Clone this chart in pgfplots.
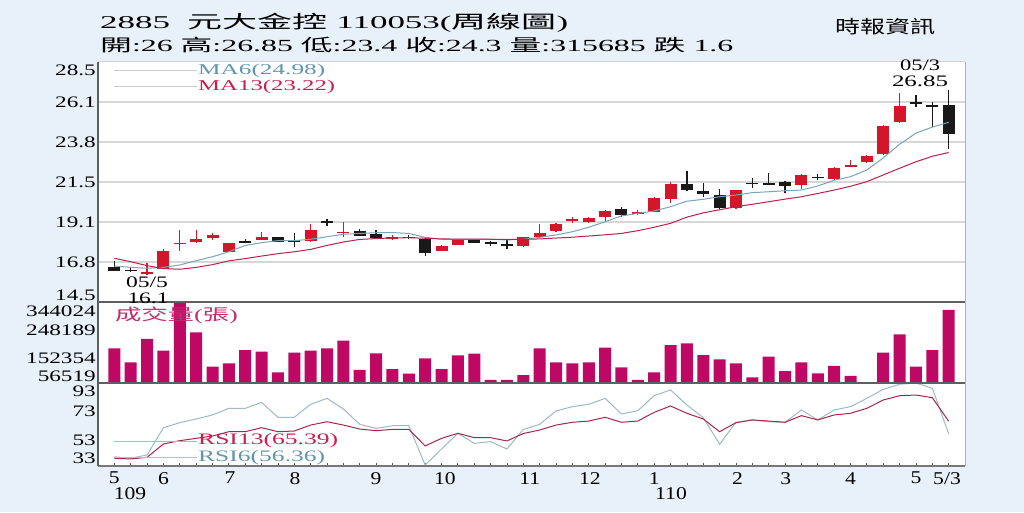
\documentclass[border=0pt]{standalone}
\usepackage{pgfplots}
\pgfplotsset{compat=1.18}
\usepackage{pgfplotstable}
\usepackage{graphicx}
\usepackage{fontspec}
\setmainfont{Liberation Serif}
\newfontfamily\cjk{Noto Sans CJK TC}
\newfontfamily\tickf{Liberation Serif}[FakeStretch=1.45]
\newfontfamily\monf{Liberation Serif}[FakeStretch=1.2]
\newcommand{\fitw}[2]{\resizebox{#1}{\height}{#2}}
\newcommand{\C}[1]{{\cjk #1}}

\definecolor{bgblue}{RGB}{232,241,250}
\definecolor{upred}{RGB}{212,22,42}
\definecolor{dnblack}{RGB}{25,25,25}
\definecolor{volc}{RGB}{190,8,100}
\definecolor{ma6c}{RGB}{120,165,185}
\definecolor{ma13c}{RGB}{185,35,75}
\definecolor{ma6t}{RGB}{95,150,175}
\definecolor{ma13t}{RGB}{200,30,80}
\definecolor{rsi6c}{RGB}{160,185,198}
\definecolor{rsi13c}{RGB}{165,40,75}
\definecolor{gridc}{RGB}{215,215,215}
\definecolor{framec}{RGB}{95,95,95}

\pgfplotstableread{
i o h l c
2 16.17 16.8 16.1 16.25
3 16.45 17.6 16.4 17.5
4 17.9 18.7 17.45 17.95
5 17.98 18.7 17.96 18.16
6 18.22 18.54 18.1 18.41
7 17.43 17.95 17.4 17.92
9 18.12 18.57 18.1 18.31
12 18.06 19.03 17.98 18.7
14 18.52 19.15 18.3 18.6
17 18.22 18.4 18.1 18.27
20 17.49 17.8 17.45 17.78
21 17.84 18.2 17.8 18.19
25 17.77 18.3 17.73 18.27
26 18.31 19.05 18.3 18.5
27 18.64 19.1 18.6 19.05
28 19.27 19.48 19.13 19.3
29 19.17 19.45 19.13 19.4
30 19.44 19.85 19.2 19.81
32 19.61 19.87 19.58 19.75
33 19.77 20.65 19.75 20.58
34 20.49 21.48 20.29 21.37
38 19.97 21.05 19.95 21.03
42 21.33 21.95 21.07 21.91
44 21.66 22.35 21.62 22.3
45 22.4 22.78 22.38 22.45
46 22.65 23.05 22.62 23.03
47 23.13 24.8 23.1 24.78
48 24.98 26.71 24.95 25.95
}\upT

\pgfplotstableread{
i o h l c
0 16.56 16.89 16.28 16.31
1 16.36 16.48 16.25 16.32
8 18.0 18.2 17.95 17.97
10 18.27 18.3 18.0 18.02
11 18.1 18.5 17.73 18.07
13 19.17 19.32 18.93 19.14
15 18.64 18.74 18.33 18.35
16 18.45 18.7 18.22 18.25
18 18.3 18.41 18.15 18.25
19 18.16 18.22 17.18 17.38
22 18.19 18.2 17.94 17.96
23 17.95 18.08 17.77 17.92
24 17.86 18.12 17.57 17.82
31 19.93 20.02 19.48 19.6
35 21.37 22.14 21.0 21.03
36 20.99 21.42 20.6 20.8
37 20.74 21.07 19.95 19.97
39 21.43 21.75 21.13 21.4
40 21.4 22.04 21.35 21.37
41 21.52 21.55 20.88 21.27
43 21.8 21.97 21.62 21.75
49 26.15 26.58 25.86 26.1
50 25.95 26.15 24.7 25.9
51 26.0 26.85 23.4 24.3
}\dnT

\pgfplotstableread{
i ma6 ma13 v r6 r13
0 16.60 17.05 179700 39.7 38.6
1 16.52 16.85 130000 38.6 38.1
2 16.47 16.62 212700 41.0 39.3
3 16.52 16.45 171200 60.7 48.9
4 16.66 16.41 344024 64.3 51.3
5 16.91 16.52 236500 67.0 53.0
6 17.14 16.68 114400 69.9 54.7
7 17.43 16.90 126400 74.7 57.8
8 17.80 17.03 173600 74.7 57.8
9 17.96 17.18 167600 79.0 60.7
10 18.08 17.32 94500 68.2 57.8
11 18.08 17.43 164100 68.2 58.3
12 18.16 17.57 171200 77.6 62.6
13 18.31 17.80 179700 81.9 65.0
14 18.45 18.00 206700 74.2 62.6
15 18.50 18.15 102700 63.1 59.7
16 18.54 18.20 161900 60.2 58.5
17 18.55 18.24 106200 62.1 59.5
18 18.50 18.25 89500 62.1 59.5
19 18.27 18.22 144200 33.7 47.5
20 18.16 18.18 106200 45.3 53.0
21 18.16 18.17 154800 56.6 56.6
22 18.16 18.17 160500 49.4 53.5
23 18.16 18.16 67200 50.6 53.5
24 18.12 18.15 67200 45.3 51.1
25 18.16 18.15 84900 59.4 56.5
26 18.27 18.18 179700 63.1 59.0
27 18.41 18.23 130000 72.8 62.6
28 18.60 18.28 126400 75.9 64.6
29 18.86 18.35 130000 77.6 65.5
30 19.18 18.42 181800 81.9 68.2
31 19.52 18.50 112200 70.6 64.6
32 19.67 18.66 67200 73.0 65.5
33 19.81 18.86 94500 83.8 71.8
34 20.06 19.09 191400 88.0 76.4
35 20.38 19.45 197400 77.1 71.1
36 20.49 19.70 155900 67.9 67.0
37 20.64 19.88 140600 48.7 57.8
38 20.74 20.06 126400 64.6 64.3
39 20.88 20.20 76800 66.3 66.3
40 20.93 20.35 149900 65.0 65.5
41 20.99 20.50 99100 64.6 64.6
42 21.03 20.64 130000 73.5 69.4
43 21.27 20.83 90900 66.3 66.3
44 21.60 21.03 116900 73.5 69.9
45 21.81 21.25 81400 75.9 71.1
46 22.20 21.52 59000 81.9 74.7
47 22.90 21.91 164100 88.4 80.7
48 23.70 22.30 229400 92.1 83.8
49 24.35 22.68 114400 93.0 84.3
50 24.70 23.00 173600 89.2 82.4
51 24.98 23.22 315685 56.36 65.39
}\serT

\pgfplotsset{
  panel/.style={
    scale only axis, width=867pt, anchor=south west,
    xmin=-1, xmax=52,
    axis line style={draw=none},
    major tick length=0pt,
    scaled y ticks=false,
    yticklabel style={font=\tickf\fontsize{16}{16}\selectfont, anchor=east, inner sep=0pt, xshift=-2pt, text=black},
  },
}

\begin{document}
\begin{tikzpicture}
\useasboundingbox (0,0) rectangle (1024pt,512pt);
\fill[bgblue] (0,0) rectangle (1024pt,512pt);
\fill[white] (98pt,46pt) rectangle (965pt,450pt);

% ---------- price panel ----------
\begin{axis}[panel, at={(98pt,210pt)}, height=240pt,
  ymin=14.5, ymax=28.5, xtick=\empty,
  ytick={16.8333,19.1667,21.5,23.8333,26.1667},
  yticklabels={16.8,19.1,21.5,23.8,26.1},
  extra y ticks={14.91,28.03}, extra y tick labels={14.5,28.5},
  extra y tick style={grid=none},
  ymajorgrids, major grid style={draw=gridc, line width=1.3pt}]
\addplot[draw=none, mark=none, error bars/.cd, y dir=both, y explicit, error mark=none,
  error bar style={draw=upred, line width=1.2pt}]
  table[x=i, y expr={(\thisrow{h}+\thisrow{l})/2}, y error expr={(\thisrow{h}-\thisrow{l})/2}] {\upT};
\addplot[draw=none, mark=none, error bars/.cd, y dir=both, y explicit, error mark=none,
  error bar style={draw=dnblack, line width=1.2pt}]
  table[x=i, y expr={(\thisrow{h}+\thisrow{l})/2}, y error expr={(\thisrow{h}-\thisrow{l})/2}] {\dnT};
\addplot[draw=none, mark=none, error bars/.cd, y dir=both, y explicit, error mark=none,
  error bar style={draw=upred, line width=12pt}]
  table[x=i, y expr={(\thisrow{o}+\thisrow{c})/2}, y error expr={max(abs(\thisrow{o}-\thisrow{c})/2,0.045)}] {\upT};
\addplot[draw=none, mark=none, error bars/.cd, y dir=both, y explicit, error mark=none,
  error bar style={draw=dnblack, line width=12pt}]
  table[x=i, y expr={(\thisrow{o}+\thisrow{c})/2}, y error expr={max(abs(\thisrow{o}-\thisrow{c})/2,0.045)}] {\dnT};
\addplot[ma6c, line width=1pt, mark=none] table[x=i, y=ma6] {\serT};
\addplot[ma13c, line width=1pt, mark=none] table[x=i, y=ma13] {\serT};
\end{axis}

% ---------- volume panel ----------
\begin{axis}[panel, at={(98pt,129pt)}, height=81pt,
  ymin=56519, ymax=344024, xtick=\empty,
  ytick={78880,144189,242153,309591},
  yticklabels={56519,152354,248189,344024}]
\addplot[ybar, bar width=12pt, fill=volc, draw=none] table[x=i, y=v] {\serT};
\end{axis}

% ---------- RSI panel ----------
\begin{axis}[panel, at={(98pt,46pt)}, height=83pt,
  ymin=33, ymax=93,
  ytick={38.6,51.8,72.3,86.7}, yticklabels={33,53,73,93},
  tick pos=left,
  xtick={0,3,7.07,11.04,16,20.2,25.4,29.07,33,38.1,41.05,45,49,50.9},
  xticklabels={5,6,7,8,9,10,11,12,1,2,3,4,5,5/3},
  xticklabel style={font=\monf\fontsize{18}{18}\selectfont, anchor=north, inner sep=0pt, yshift=-6pt, text=black},
  minor xtick={0,1,...,51}, minor tick length=3pt,
  minor x tick style={draw=framec, line width=0.8pt}]
\addplot[rsi6c, line width=1pt, mark=none] table[x=i, y=r6] {\serT};
\addplot[rsi13c, line width=1pt, mark=none] table[x=i, y=r13] {\serT};
\end{axis}

% ---------- frame ----------
\draw[gray!35, line width=1pt] (98pt,450pt) -- (965pt,450pt);
\draw[gray!60, line width=1pt] (965pt,46pt) -- (965pt,450pt);
\draw[framec, line width=1.2pt] (98pt,210pt) -- (965pt,210pt);
\draw[framec, line width=1.2pt] (98pt,129pt) -- (965pt,129pt);
\draw[framec!85, line width=1.2pt] (98pt,46pt) -- (965pt,46pt);
\draw[framec, line width=1.3pt] (98pt,46pt) -- (98pt,450pt);

% ---------- legends ----------
\draw[gray!40, line width=1pt] (114pt,441pt) -- (197pt,441pt);
\draw[gray!40, line width=1pt] (114pt,425pt) -- (197pt,425pt);
\node[anchor=west, inner sep=0pt, text=ma6t] at (198pt,441pt) {\fontsize{15}{15}\selectfont\fitw{127pt}{MA6(24.98)}};
\node[anchor=west, inner sep=0pt, text=ma13t] at (198pt,425pt) {\fontsize{15}{15}\selectfont\fitw{137pt}{MA13(23.22)}};

\draw[color={rgb,255:red,225;green,160;blue,180}, line width=1pt] (114pt,71pt) -- (197pt,71pt);
\draw[color={rgb,255:red,175;green,195;blue,205}, line width=1pt] (114pt,54.5pt) -- (197pt,54.5pt);
\node[anchor=west, inner sep=0pt, text=ma13t] at (198pt,71pt) {\fontsize{16}{16}\selectfont\fitw{140pt}{RSI13(65.39)}};
\node[anchor=west, inner sep=0pt, text=ma6t] at (198pt,54.5pt) {\fontsize{16}{16}\selectfont\fitw{127pt}{RSI6(56.36)}};

\node[inner sep=0pt, text={rgb,255:red,195;green,45;blue,110}] at (176.5pt,197pt) {\fontsize{16}{16}\selectfont\fitw{123pt}{\C{成交量}(\C{張})}};

% ---------- annotations ----------
\node[inner sep=0pt] at (147pt,229.5pt) {\fontsize{16}{16}\selectfont\fitw{42pt}{05/5}};
\node[inner sep=0pt] at (148pt,214pt) {\fontsize{16}{16}\selectfont\fitw{41pt}{16.1}};
\node[inner sep=0pt] at (920pt,446.5pt) {\fontsize{16}{16}\selectfont\fitw{40pt}{05/3}};
\node[inner sep=0pt] at (920pt,431pt) {\fontsize{16}{16}\selectfont\fitw{56pt}{26.85}};

\node[inner sep=0pt] at (130pt,18pt) {\monf\fontsize{18}{18}\selectfont 109};
\node[inner sep=0pt] at (671pt,18pt) {\monf\fontsize{18}{18}\selectfont 110};

% ---------- titles ----------
\node[anchor=west, inner sep=0pt] at (100pt,489pt) {\fontsize{18}{18}\selectfont\fitw{468pt}{2885\hspace{0.5em}\C{元大金控} 110053(\C{周線圖})}};
\node[anchor=west, inner sep=0pt] at (100pt,467pt) {\fontsize{17}{17}\selectfont\fitw{633pt}{\C{開}:26 \C{高}:26.85 \C{低}:23.4 \C{收}:24.3 \C{量}:315685 \C{跌} 1.6}};
\node[inner sep=0pt] at (885pt,485pt) {\fontsize{18}{18}\selectfont\fitw{100pt}{\C{時報資訊}}};
\end{tikzpicture}
\end{document}
